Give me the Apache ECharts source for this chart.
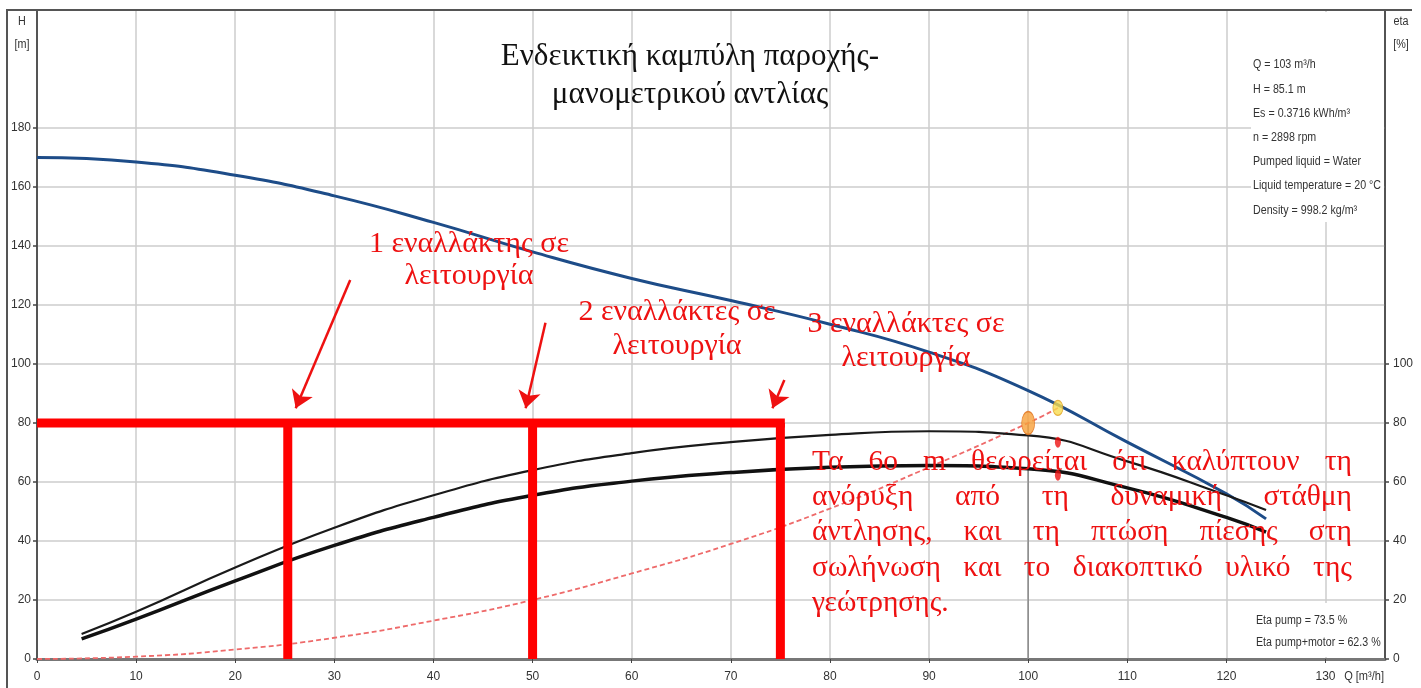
<!DOCTYPE html>
<html>
<head>
<meta charset="utf-8">
<title>Καμπύλη αντλίας</title>
<script src="https://cdn.jsdelivr.net/npm/echarts@6/dist/echarts.min.js"></script>
<style>
  html, body { margin: 0; padding: 0; background: #fff; }
  #main { width: 1421px; height: 688px; }
</style>
</head>
<body>
<div id="main"></div>
<script>
// καμπύλη αντλίας Q-H
const qPump = [0, 10, 20, 30, 40, 50, 60, 70, 80, 90, 100, 110, 120, 124]
const hPump = [170, 168.5, 164, 157, 148, 138, 129, 121.5, 113.5, 104, 91, 73.5, 56, 47.5]

// βαθμοί απόδοσης (δεξιός άξονας)
const qEta = [4.5, 10, 20, 30, 40, 50, 60, 70, 80, 90, 100, 110, 120, 124]
const etaPump = [8.5, 16, 31, 44.5, 55.5, 64, 69.8, 73.5, 76, 77.2, 75.8, 67, 55.5, 50.5]
const etaTotal = [6.8, 13.5, 26.5, 38.5, 48, 55.5, 60.3, 63.2, 65, 65.6, 64.5, 58, 48, 43]

// καμπύλη συστήματος
const qSys = [0, 10, 20, 30, 40, 50, 60, 70, 80, 90, 100, 103]
const hSys = [0, 0.8, 3.2, 7.2, 13, 20, 29, 39, 51, 65, 80, 85.1]

// σημείο λειτουργίας
const dutyQ = 103
const dutyH = 85.1
const dutyEtaPump = 73.5
const dutyEtaTotal = 62.3
const sysPointQ = 100
const sysPointH = 80

// εναλλάκτες
const exchangerH = 80
const exchangerQ = [25.3, 50, 75]
const arrowFrom = [[31.6, 128.5], [51.3, 114], [75.4, 94.6]]
const arrowTo = [[26.1, 85], [49.3, 85], [74.2, 85]]

// άξονες
const xTicks = [0, 10, 20, 30, 40, 50, 60, 70, 80, 90, 100, 110, 120, 130]
const hTicks = [0, 20, 40, 60, 80, 100, 120, 140, 160, 180]
const etaTicks = [0, 20, 40, 60, 80, 100]

const infoLines = [
  'Q = 103 m³/h',
  'H = 85.1 m',
  'Es = 0.3716 kWh/m³',
  'n = 2898 rpm',
  'Pumped liquid = Water',
  'Liquid temperature = 20 °C',
  'Density = 998.2 kg/m³'
]
const etaLines = ['Eta pump = 73.5 %', 'Eta pump+motor = 62.3 %']

const titleText = 'Ενδεικτική καμπύλη παροχής-\nμανομετρικού αντλίας'
const labelTexts = [
  '1 εναλλάκτης σε\nλειτουργία',
  '2 εναλλάκτες σε\nλειτουργία',
  '3 εναλλάκτες σε\nλειτουργία'
]
const noteLines = [
  'Τα 6ο m θεωρείται ότι καλύπτουν τη',
  'ανόρυξη από τη δυναμική στάθμη',
  'άντλησης, και τη πτώση πίεσης στη',
  'σωλήνωση και το διακοπτικό υλικό της',
  'γεώτρησης.'
]

const pts = (xs, ys) => xs.map((x, i) => [x, ys[i]])

const SANS = '"Liberation Sans", Arial, sans-serif'
const SERIF = '"Liberation Serif", "DejaVu Serif", serif'
const RED = '#ee1111'

// στοίχιση κειμένου (justify) με μέτρηση λέξεων
const measureCtx = document.createElement('canvas').getContext('2d')
function justifyText(lines, x0, x1, y0, lh, font) {
  measureCtx.font = font
  const out = []
  lines.forEach((line, li) => {
    const words = line.split(' ')
    const widths = words.map(w => measureCtx.measureText(w).width)
    const total = widths.reduce((a, b) => a + b, 0)
    const last = li === lines.length - 1
    const gap = (last || words.length < 2) ? measureCtx.measureText(' ').width
      : (x1 - x0 - total) / (words.length - 1)
    let x = x0
    words.forEach((w, i) => {
      out.push({
        type: 'text', z: 100, x: x, y: y0 + li * lh,
        style: { text: w, font: font, fill: RED, align: 'left', verticalAlign: 'middle',
          textAlign: 'left', textVerticalAlign: 'middle' }
      })
      x += widths[i] + gap
    })
  })
  return out
}

function textEl(x, y, text, font, fill, align, lh, sx) {
  return {
    type: 'text', z: 100, x: x, y: y, scaleX: sx || 1,
    style: { text: text, font: font, fill: fill, align: align, verticalAlign: 'middle',
      textAlign: align, textVerticalAlign: 'middle', lineHeight: lh }
  }
}

const chart = echarts.init(document.getElementById('main'))

const graphics = [
  // εξωτερικό πλαίσιο
  { type: 'polyline', z: 5, shape: { points: [[7, 688], [7, 10], [1412, 10]] },
    style: { stroke: '#555', lineWidth: 2, fill: null } },
  // λευκά πλαίσια πληροφοριών
  { type: 'rect', z: 1, shape: { x: 1251, y: 12, width: 133, height: 210 }, style: { fill: '#fff' } },
  { type: 'rect', z: 1, shape: { x: 1251, y: 603, width: 133, height: 54 }, style: { fill: '#fff' } },
  textEl(22, 22, 'H', '12px ' + SANS, '#333', 'center', 14, 0.9),
  textEl(22, 45, '[m]', '12px ' + SANS, '#333', 'center', 14, 0.9),
  textEl(1401, 22, 'eta', '12px ' + SANS, '#333', 'center', 14, 0.9),
  textEl(1401, 45, '[%]', '12px ' + SANS, '#333', 'center', 14, 0.9),
  textEl(1384, 677, 'Q [m³/h]', '12px ' + SANS, '#333', 'right', 14, 0.92),
  textEl(690, 76, titleText, '31px ' + SERIF, '#111', 'center', 38),
  textEl(469, 260.5, labelTexts[0], '30px ' + SERIF, RED, 'center', 32),
  textEl(677, 329.5, labelTexts[1], '30px ' + SERIF, RED, 'center', 34),
  textEl(906, 341.5, labelTexts[2], '30px ' + SERIF, RED, 'center', 34)
]
infoLines.forEach((t, i) => {
  graphics.push(textEl(1253, 65 + i * 24.2, t, '12px ' + SANS, '#333', 'left', 14, 0.89))
})
etaLines.forEach((t, i) => {
  graphics.push(textEl(1256, 621 + i * 22, t, '12px ' + SANS, '#333', 'left', 14, 0.89))
})
justifyText(noteLines, 812, 1352, 462, 35.3, '29.5px ' + SERIF).forEach(g => graphics.push(g))

const valueAxisCommon = {
  type: 'value',
  min: 0,
  max: 220,
  interval: 20,
  splitLine: { show: false },
  axisTick: { show: true, length: 4, lineStyle: { color: '#444', width: 1.5 } },
  axisLabel: { color: '#333', fontSize: 12, fontFamily: SANS }
}

chart.setOption({
  animation: false,
  backgroundColor: '#fff',
  grid: {
    left: 37, right: 36, top: 10, bottom: 29,
    show: true, borderColor: '#555', borderWidth: 1.5
  },
  xAxis: {
    type: 'value',
    min: 0,
    max: 136,
    interval: 10,
    axisLine: { onZero: false, lineStyle: { color: '#777', width: 3 } },
    axisTick: { show: true, length: 4, customValues: xTicks, lineStyle: { color: '#444' } },
    axisLabel: {
      color: '#333', fontSize: 12, fontFamily: SANS, margin: 12,
      customValues: xTicks,
      formatter: v => (v % 10 === 0 && v <= 130) ? String(v) : ''
    },
    splitLine: { show: true, lineStyle: { color: '#cdcdcd', width: 1.5 } }
  },
  yAxis: [
    Object.assign({}, valueAxisCommon, {
      position: 'left',
      axisLine: { show: true, lineStyle: { color: '#555', width: 2 } },
      axisTick: Object.assign({}, valueAxisCommon.axisTick, { customValues: hTicks }),
      axisLabel: Object.assign({}, valueAxisCommon.axisLabel, {
        margin: 6, customValues: hTicks,
        formatter: v => v <= 180 ? String(v) : ''
      }),
      splitLine: { show: true, lineStyle: { color: '#cdcdcd', width: 1.5 } }
    }),
    Object.assign({}, valueAxisCommon, {
      position: 'right',
      axisLine: { show: true, lineStyle: { color: '#444', width: 1.5 } },
      axisTick: Object.assign({}, valueAxisCommon.axisTick, { customValues: etaTicks }),
      axisLabel: Object.assign({}, valueAxisCommon.axisLabel, {
        margin: 8, customValues: etaTicks,
        formatter: v => v <= 100 ? String(v) : ''
      })
    })
  ],
  graphic: graphics,
  series: [
    {
      name: 'dropline', type: 'line', z: 2, silent: true, symbol: 'none',
      lineStyle: { color: '#8a8a8a', width: 1.5 },
      data: [[sysPointQ, 0], [sysPointQ, sysPointH]]
    },
    {
      name: 'H', type: 'line', smooth: true, symbol: 'none', z: 3,
      lineStyle: { color: '#1d4c88', width: 3 },
      data: pts(qPump, hPump)
    },
    {
      name: 'system', type: 'line', smooth: true, symbol: 'none', z: 3,
      lineStyle: { color: '#ee6a6a', width: 1.8, type: [5, 3] },
      data: pts(qSys, hSys)
    },
    {
      name: 'eta pump', type: 'line', smooth: true, symbol: 'none', yAxisIndex: 1, z: 3,
      lineStyle: { color: '#1a1a1a', width: 2.2 },
      data: pts(qEta, etaPump)
    },
    {
      name: 'eta pump+motor', type: 'line', smooth: true, symbol: 'none', yAxisIndex: 1, z: 3,
      lineStyle: { color: '#111', width: 3.5 },
      data: pts(qEta, etaTotal)
    },
    // κόκκινες γραμμές εναλλακτών
    {
      name: 'level', type: 'line', symbol: 'none', z: 6,
      lineStyle: { color: '#ff0000', width: 9, cap: 'butt' },
      data: [[0, exchangerH], [exchangerQ[2] + 0.45, exchangerH]]
    }
  ].concat(exchangerQ.map(q => ({
    name: 'exchanger', type: 'line', symbol: 'none', z: 6,
    lineStyle: { color: '#ff0000', width: 9, cap: 'butt' },
    data: [[q, exchangerH], [q, 0]]
  }))).concat([
    {
      name: 'arrows', type: 'lines', coordinateSystem: 'cartesian2d', z: 7,
      symbol: ['none', 'arrow'], symbolSize: [14, 17],
      lineStyle: { color: RED, width: 2.5, opacity: 1 },
      data: arrowFrom.map((a, i) => ({ coords: [a, arrowTo[i]] }))
    },
    {
      name: 'points', type: 'scatter', z: 8,
      data: [
        { value: [sysPointQ, sysPointH], symbolSize: [13, 23],
          itemStyle: { color: '#f8a03a', borderColor: '#e0701a', borderWidth: 1 } },
        { value: [dutyQ, dutyH], symbolSize: [10, 15],
          itemStyle: { color: '#f8dc50', borderColor: '#e0a020', borderWidth: 1 } }
      ]
    },
    {
      name: 'eta points', type: 'scatter', yAxisIndex: 1, z: 8,
      symbolSize: [6, 11],
      itemStyle: { color: '#ee1111' },
      data: [[dutyQ, dutyEtaPump], [dutyQ, dutyEtaTotal]]
    }
  ])
})
</script>
</body>
</html>
